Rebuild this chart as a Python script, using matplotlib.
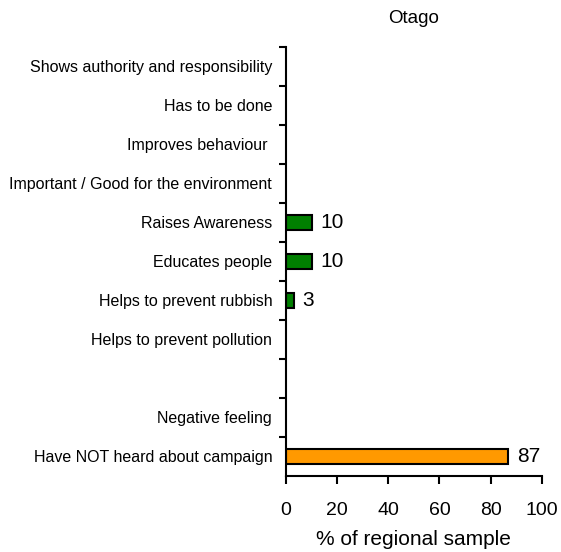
import numpy as np
import matplotlib.pyplot as plt

plt.rcParams["font.family"] = ["Liberation Sans", "DejaVu Sans"]

categories = [
    "Shows authority and responsibility",
    "Has to be done",
    "Improves behaviour ",
    "Important / Good for the environment",
    "Raises Awareness",
    "Educates people",
    "Helps to prevent rubbish",
    "Helps to prevent pollution",
    "",
    "Negative feeling",
    "Have NOT heard about campaign",
]
values = [0, 0, 0, 0, 10, 10, 3, 0, 0, 0, 87]
bar_colors = ["#007F00"] * 10 + ["#FF9900"]

fig = plt.figure(figsize=(5.61, 5.52), dpi=100)
ax = fig.add_axes([0.51, 0.1377, 0.4556, 0.7772])

y = np.arange(len(categories))
for yi, v, c in zip(y, values, bar_colors):
    if v > 0:
        ax.barh(yi, v, height=0.38, color=c, edgecolor="black", linewidth=1.5)
        ax.text(v + 3.5, yi, f"{v}", va="center", ha="left", fontsize=15)

ax.set_ylim(len(categories) - 0.5, -0.5)
ax.set_xlim(0, 100)
ax.set_yticks(y)
ax.set_yticklabels(categories, fontsize=11.5)
ax.tick_params(axis="y", length=0, pad=10)
ax.set_yticks(np.arange(len(categories)) - 0.5, minor=True)
ax.tick_params(axis="y", which="minor", length=5, width=1.5, direction="out")
ax.set_xticks([0, 20, 40, 60, 80, 100])
ax.tick_params(axis="x", length=6, width=1.5, labelsize=14, pad=13)

for s in ["top", "right"]:
    ax.spines[s].set_visible(False)
for s in ["left", "bottom"]:
    ax.spines[s].set_linewidth(1.5)

ax.set_xlabel("% of regional sample", fontsize=15, labelpad=8)
ax.set_title("Otago", fontsize=13.5, pad=17)

plt.savefig("out.png", dpi=100)
